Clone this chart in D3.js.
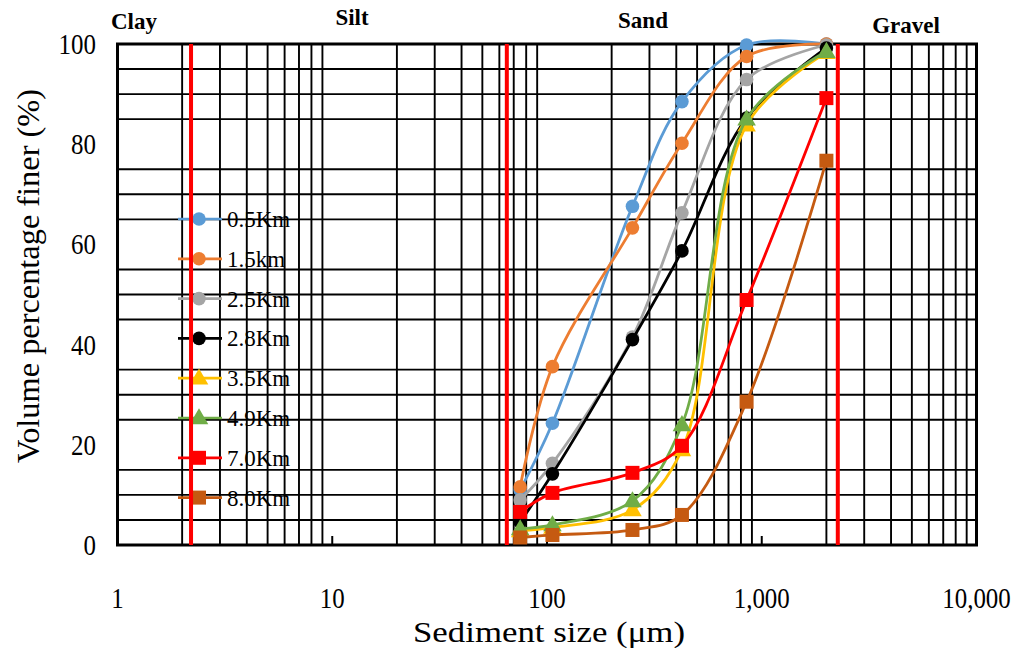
<!DOCTYPE html>
<html>
<head>
<meta charset="utf-8">
<script src="https://cdn.jsdelivr.net/npm/d3@7"></script>
<style>
  html, body { margin: 0; padding: 0; background: #fff; }
  svg { display: block; font-family: "Liberation Serif", "Times New Roman", serif; }
</style>
</head>
<body>
<svg id="chart" width="1023" height="648"></svg>
<script>
// Sieve sizes (µm) and cumulative percent finer for each sampling distance
const sizes = [75, 106, 250, 425, 850, 2000];
const s05 = [11.0, 24.3, 67.6, 88.5, 99.8, 100];
const s15 = [11.6, 35.6, 63.3, 80.2, 97.5, 100];
const s25 = [9.0, 16.3, 41.5, 66.3, 92.9, 99.8];
const s28 = [4.6, 14.2, 41.0, 58.7, 85.2, 99.2];
const s35 = [2.8, 3.5, 7.0, 19.0, 83.8, 98.3];
const s49 = [3.2, 4.0, 8.8, 24.0, 85.0, 98.5];
const s70 = [6.6, 10.4, 14.4, 19.8, 48.9, 89.2];
const s80 = [1.5, 2.0, 3.0, 6.0, 28.6, 76.7];

const seriesNames = ["0.5Km", "1.5km", "2.5Km", "2.8Km", "3.5Km", "4.9Km", "7.0Km", "8.0Km"];
const seriesValues = [s05, s15, s25, s28, s35, s49, s70, s80];
const seriesColors = ["#5B9BD5", "#ED7D31", "#A5A5A5", "#000000", "#FFC000", "#70AD47", "#FF0000", "#C55A11"];
const seriesMarkers = ["circle", "circle", "circle", "circle", "triangle", "triangle", "square", "square"];

// Axis ticks and class boundaries (µm)
const xTicks = [1, 10, 100, 1000, 10000];
const xTickLabels = ["1", "10", "100", "1,000", "10,000"];
const yTicks = [0, 20, 40, 60, 80, 100];
const boundaries = [2.2, 65, 2260];
const classNames = ["Clay", "Silt", "Sand", "Gravel"];

const svg = d3.select("#chart");
const pLeft = 117.5, pRight = 976.5, pTop = 44, pBottom = 545;

const x = d3.scaleLog().domain([1, 10000]).range([pLeft, pRight]);
const y = d3.scaleLinear().domain([0, 100]).range([pBottom, pTop]);

const plot = svg.append("g");

// Minor vertical gridlines (2..9 within each decade)
const vMinor = [];
for (let dec = 1; dec < 10000; dec *= 10) {
  for (let m = 2; m <= 9; m++) vMinor.push(dec * m);
}
plot.selectAll("line.vgrid").data(vMinor).join("line")
  .attr("class", "vgrid")
  .attr("x1", d => x(d)).attr("x2", d => x(d))
  .attr("y1", pTop).attr("y2", pBottom)
  .attr("stroke", "#000").attr("stroke-width", 1.9);

// Minor horizontal gridlines every 5 %, skipping the labelled values
const hMinor = d3.range(5, 100, 5).filter(v => v % 20 !== 0);
plot.selectAll("line.hgrid").data(hMinor).join("line")
  .attr("class", "hgrid")
  .attr("x1", pLeft).attr("x2", pRight)
  .attr("y1", d => y(d)).attr("y2", d => y(d))
  .attr("stroke", "#000").attr("stroke-width", 1.9);

// Decade tick marks on the bottom axis (inside)
plot.selectAll("line.xtick").data(xTicks).join("line")
  .attr("class", "xtick")
  .attr("x1", d => x(d)).attr("x2", d => x(d))
  .attr("y1", pBottom).attr("y2", pBottom - 9)
  .attr("stroke", "#000").attr("stroke-width", 2);

// Plot frame
plot.append("rect")
  .attr("x", pLeft).attr("y", pTop)
  .attr("width", pRight - pLeft).attr("height", pBottom - pTop)
  .attr("fill", "none").attr("stroke", "#000").attr("stroke-width", 3);

// Axis tick labels (slightly condensed serif digits)
svg.selectAll("text.xlab").data(xTicks).join("text")
  .attr("class", "xlab")
  .attr("transform", d => `translate(${x(d)},608) scale(0.86,1)`)
  .attr("text-anchor", "middle")
  .attr("font-size", 29)
  .text((d, i) => xTickLabels[i]);

svg.selectAll("text.ylab").data(yTicks).join("text")
  .attr("class", "ylab")
  .attr("transform", d => `translate(96,${y(d) + 10}) scale(0.86,1)`)
  .attr("text-anchor", "end")
  .attr("font-size", 29)
  .text(d => d);

// Axis titles
svg.append("text")
  .attr("x", 549).attr("y", 642)
  .attr("text-anchor", "middle")
  .attr("font-size", 30)
  .attr("textLength", 272).attr("lengthAdjust", "spacingAndGlyphs")
  .text("Sediment  size (μm)");

svg.append("text")
  .attr("transform", "translate(39,276) rotate(-90)")
  .attr("text-anchor", "middle")
  .attr("font-size", 32)
  .attr("textLength", 374).attr("lengthAdjust", "spacingAndGlyphs")
  .text("Volume percentage  finer (%)");

function drawMarker(g, kind, cx, cy, color) {
  if (kind === "circle") {
    g.append("circle").attr("cx", cx).attr("cy", cy).attr("r", 6.8).attr("fill", color);
  } else if (kind === "square") {
    g.append("rect").attr("x", cx - 7).attr("y", cy - 7).attr("width", 14).attr("height", 14).attr("fill", color);
  } else {
    g.append("path")
      .attr("d", d3.symbol(d3.symbolTriangle, 150)())
      .attr("transform", `translate(${cx},${cy + 1})`)
      .attr("fill", color);
  }
}

// Legend (no background, sits on the grid)
const legend = svg.append("g");
seriesNames.forEach((name, i) => {
  const ly = 219 + i * 39.8;
  legend.append("line")
    .attr("x1", 178).attr("x2", 222).attr("y1", ly).attr("y2", ly)
    .attr("stroke", seriesColors[i]).attr("stroke-width", 2.7);
  drawMarker(legend, seriesMarkers[i], 199, ly, seriesColors[i]);
  legend.append("text")
    .attr("x", 227).attr("y", ly + 8)
    .attr("font-size", 23)
    .text(name);
});

// Class boundary lines
svg.selectAll("line.bound").data(boundaries).join("line")
  .attr("class", "bound")
  .attr("x1", d => x(d)).attr("x2", d => x(d))
  .attr("y1", pTop).attr("y2", pBottom)
  .attr("stroke", "#FF0000").attr("stroke-width", 4);

// Class names above the frame
const classX = [134, 352, 643, 906];
const classY = [29, 25, 28, 33];
svg.selectAll("text.cls").data(classNames).join("text")
  .attr("class", "cls")
  .attr("x", (d, i) => classX[i]).attr("y", (d, i) => classY[i])
  .attr("text-anchor", "middle")
  .attr("font-size", 23).attr("font-weight", "bold")
  .text(d => d);

// Series: smoothed lines, then markers
const line = d3.line()
  .x(d => x(d[0])).y(d => y(d[1]))
  .curve(d3.curveCatmullRom.alpha(0.5));

const seriesG = svg.append("g");
seriesValues.forEach((vals, i) => {
  const pts = sizes.map((s, j) => [s, vals[j]]);
  const g = seriesG.append("g");
  g.append("path")
    .attr("d", line(pts))
    .attr("fill", "none")
    .attr("stroke", seriesColors[i]).attr("stroke-width", 2.8);
  pts.forEach(p => drawMarker(g, seriesMarkers[i], x(p[0]), y(p[1]), seriesColors[i]));
});
</script>
</body>
</html>
